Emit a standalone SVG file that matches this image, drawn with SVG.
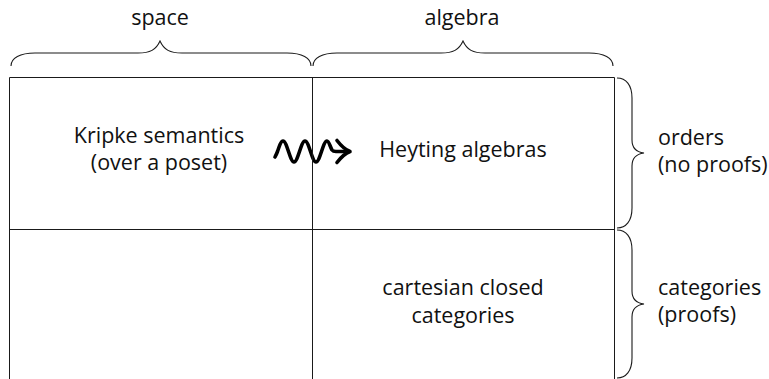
<svg xmlns="http://www.w3.org/2000/svg" width="769" height="379" viewBox="0 0 769 379">
<style>
.t{font-family:"Open Sans","Noto Sans","DejaVu Sans",sans-serif;font-size:21.5px;fill:#111}
.c{text-anchor:middle}
.ln{stroke:#1a1a1a;stroke-width:1;fill:none}
.br{stroke:#1a1a1a;stroke-width:1.1;fill:none}
.sq{stroke:#000;stroke-width:3.6;fill:none;stroke-linecap:round;stroke-linejoin:round}
</style>
<rect width="769" height="379" fill="#fff"/>
<g id="braces">
<path class="br" d="M11,66 C11,58 20,53 35,53 L138,53 C150,53 156,50 160,41 C164,50 170,53 182,53 L287,53 C302,53 311,58 311,66"/>
<path class="br" d="M313,66 C313,58 322,53 337,53 L441,53 C453,53 459,50 463,41 C467,50 473,53 485,53 L589,53 C604,53 613,58 613,66"/>
<path class="br" d="M617,78 C626,78 632,85 632,98 L632,140 C632,148 636,152 644,153 C636,154 632,158 632,166 L632,208 C632,221 626,228 617,228"/>
<path class="br" d="M617,230 C626,230 632,237 632,250 L632,291 C632,299 636,303 644,304 C636,305 632,309 632,317 L632,358 C632,371 626,378 617,378"/>
</g>
<g id="labels">
<text class="t c" x="160" y="25">space</text>
<text class="t c" x="462" y="25">algebra</text>
<text class="t" x="658" y="145">orders</text>
<text class="t" x="658" y="172">(no proofs)</text>
<text class="t" x="658" y="295">categories</text>
<text class="t" x="658" y="322">(proofs)</text>
</g>
<g id="connectors">
<path class="sq" d="M275,157 C275.8,155.5 276.7,153.6 277.5,151.5 C279.29,146.12 281.01,141 283,141 C284.99,141 286.71,146.12 288.5,151.5 C290.29,156.88 292.01,162 294,162 C295.99,162 297.71,156.88 299.5,151.5 C301.29,146.12 303.01,141 305,141 C306.99,141 308.71,146.12 310.5,151.5 C312.29,156.88 314.01,162 316,162 C317.99,162 319.71,156.88 321.5,151.5 C323.29,146.12 325.01,141 327,141 C328.99,141 330.2,147 332,150 C333,151.3 334,151.5 336,151.5 L349,151.5"/>
<path class="sq" d="M337,140.5 Q343.5,149 350,151.5 Q343.5,154 337,162.5"/>
</g>
<g id="grid">
<path class="ln" d="M9.5,77.5 H614.5 M9.5,229.5 H614.5 M9.5,77.5 V379 M312.5,77.5 V379 M614.5,77.5 V379"/>
</g>
<g id="node-kripke">
<text class="t c" x="159" y="143">Kripke semantics</text>
<text class="t c" x="159" y="170">(over a poset)</text>
</g>
<g id="node-heyting">
<text class="t c" x="463" y="157">Heyting algebras</text>
</g>
<g id="node-ccc">
<text class="t c" x="463" y="295">cartesian closed</text>
<text class="t c" x="463" y="323">categories</text>
</g>
</svg>
